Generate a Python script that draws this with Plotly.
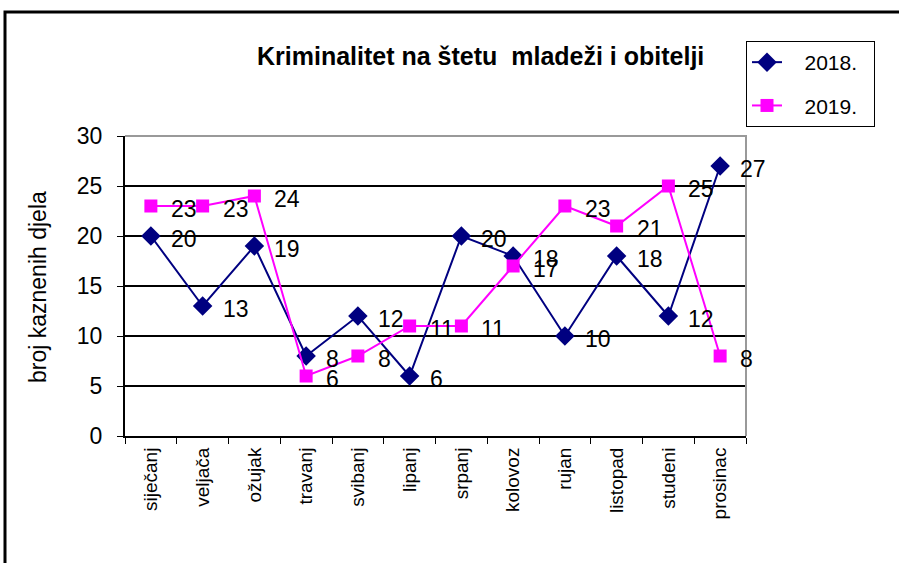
"""
plot.py
- Kriminalitet na štetu mladeži i obitelji, 2018. vs 2019., line chart with value labels
"""
import plotly.graph_objects as go

# ---------- Data ----------
months = ["siječanj", "veljača", "ožujak", "travanj", "svibanj", "lipanj",
          "srpanj", "kolovoz", "rujan", "listopad", "studeni", "prosinac"]
y2018 = [20, 13, 19, 8, 12, 6, 20, 18, 10, 18, 12, 27]
y2019 = [23, 23, 24, 6, 8, 11, 11, 17, 23, 21, 25, 8]
y_ticks = [0, 5, 10, 15, 20, 25, 30]

FONT = "Liberation Sans, Arial, sans-serif"
NAVY = "#000080"
MAGENTA = "#FF00FF"
NB = "\u00a0"

# plot area in pixels (899 x 563 page)
W, H = 899, 563
L, R, T, B = 125, 746, 136, 436


def px_x(px):
    return (px - L) / (R - L)


def px_y(py):
    return (B - py) / (B - T)


fig = go.Figure()
fig.add_trace(go.Scatter(
    x=months, y=y2018, name=NB * 3 + "2018." + NB * 2, mode="lines+markers",
    line=dict(color=NAVY, width=2),
    marker=dict(symbol="diamond", size=15, color=NAVY),
    legendgroup="a",
))
fig.add_trace(go.Scatter(
    x=months, y=y2019, name=NB * 3 + "2019." + NB * 2, mode="lines+markers",
    line=dict(color=MAGENTA, width=2),
    marker=dict(symbol="square", size=13, color=MAGENTA),
    legendgroup="b",
))

# value labels, to the right of each point
for series in (y2018, y2019):
    for m, v in zip(months, series):
        fig.add_annotation(
            x=m, y=v, text=str(v), showarrow=False,
            xanchor="left", yanchor="middle", xshift=18, yshift=-3,
            font=dict(family=FONT, size=23, color="black"),
        )

# title
fig.add_annotation(
    x=px_x(480), y=px_y(56), xref="paper", yref="paper",
    xanchor="center", yanchor="middle",
    text="<b>Kriminalitet na štetu  mladeži i obitelji</b>", showarrow=False,
    font=dict(family=FONT, size=25, color="black"),
)
# y axis title
fig.add_annotation(
    x=px_x(38), y=px_y(287), xref="paper", yref="paper",
    xanchor="center", yanchor="middle",
    text="broj kaznenih djela", textangle=-90, showarrow=False,
    font=dict(family=FONT, size=23, color="black"),
)

# outer frame (left and top edges only, the rest runs off the image)
fig.add_shape(
    type="path", xref="paper", yref="paper",
    path=f"M {px_x(5)} {px_y(570)} L {px_x(5)} {px_y(12)} L {px_x(905)} {px_y(12)}",
    line=dict(color="black", width=3),
)
# grey plot-area border at top and right
fig.add_shape(
    type="path", xref="paper", yref="paper",
    path="M 0 1 L 1 1 L 1 0",
    line=dict(color="#999999", width=2), layer="above",
)

fig.update_layout(
    width=W, height=H,
    margin=dict(l=L, r=W - R, t=T, b=H - B, autoexpand=False),
    paper_bgcolor="white", plot_bgcolor="white",
    font=dict(family=FONT, color="black"),
    showlegend=True,
    legend=dict(
        x=px_x(746), y=px_y(41), xanchor="left", yanchor="top",
        bordercolor="black", borderwidth=1, bgcolor="white",
        font=dict(family=FONT, size=21, color="black"),
        tracegroupgap=13,
    ),
    xaxis=dict(
        range=[-0.5, len(months) - 0.5],
        showgrid=False, showline=True, linecolor="black", linewidth=2,
        ticks="outside", tickson="boundaries", ticklen=6, tickcolor="black",
        tickangle=-90, tickfont=dict(family=FONT, size=19, color="black"),
        ticklabelstandoff=2,
    ),
    yaxis=dict(
        range=[0, 30], tickvals=y_ticks, showgrid=True, gridcolor="black",
        gridwidth=2, zeroline=False, showline=True, linecolor="black",
        linewidth=2, ticks="outside", ticklen=6, tickcolor="black",
        tickfont=dict(family=FONT, size=23, color="black"),
        ticklabelstandoff=10,
    ),
)

# no page margin, so the figure starts at the window corner
fig.write_html("out.html", config={"displayModeBar": False},
               post_script="document.body.style.margin='0';")
